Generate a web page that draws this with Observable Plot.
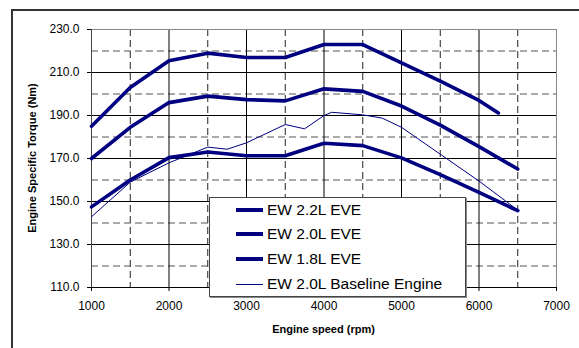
<!DOCTYPE html>
<html>
<head>
<meta charset="utf-8">
<script src="https://cdn.jsdelivr.net/npm/d3@7"></script>
<script src="https://cdn.jsdelivr.net/npm/@observablehq/plot@0.6"></script>
<style>
  body { margin: 0; background: white; }
  #wrap { position: relative; width: 579px; height: 348px; overflow: hidden; font-family: "Liberation Sans", Arial, sans-serif; }
  #frame { position: absolute; left: 11px; top: 9px; width: 600px; height: 400px; border-top: 2px solid #333; border-left: 2px solid #333; pointer-events: none; }
  .title { position: absolute; font-weight: bold; font-size: 11px; color: #000; white-space: nowrap; }
  #legend { position: absolute; left: 209px; top: 197px; width: 255px; height: 98px; background: white; border: 1px solid #444; box-shadow: 1px 1px 0 #888; }
  .row { position: absolute; left: 0; height: 20px; width: 100%; }
  .sample { position: absolute; left: 26px; width: 27px; top: 50%; background: #000080; }
  .lab { position: absolute; left: 57px; top: 50%; transform: translateY(-52%); font-size: 15.5px; color: #000; white-space: nowrap; }
</style>
</head>
<body>
<div id="wrap"></div>
<script>
// Data
const rpm22 = [1000, 1500, 2000, 2500, 3000, 3500, 4000, 4500, 5000, 5500, 6000, 6250];
const ew22  = [185, 203, 215.5, 219, 217, 217, 223, 223, 214.5, 206, 197, 191.2];
const rpm20 = [1000, 1500, 2000, 2500, 3000, 3500, 4000, 4500, 5000, 5500, 6000, 6500];
const ew20  = [170, 184.5, 196, 199, 197.4, 196.8, 202.4, 201.2, 194.4, 185.5, 175.5, 165.1];
const rpm18 = [1000, 1500, 2000, 2500, 3000, 3500, 4000, 4500, 5000, 5500, 6000, 6500];
const ew18  = [147.5, 160, 170.4, 173, 171.3, 171.3, 177.1, 176, 170.3, 162.5, 154.2, 145.7];
const rpmBase = [1000, 1500, 2000, 2500, 2750, 3000, 3500, 3750, 4000, 4100, 4500, 4750, 5000, 5500, 6000, 6500];
const ewBase  = [142.9, 159, 168, 175.3, 174.3, 177.3, 185.8, 183.8, 190, 191.5, 190.3, 188.8, 184.5, 172, 159.5, 146];

const seriesNames = ["EW 2.2L EVE", "EW 2.0L EVE", "EW 1.8L EVE", "EW 2.0L Baseline Engine"];
const xTicks = [1000, 2000, 3000, 4000, 5000, 6000, 7000];
const yTicks = [110, 130, 150, 170, 190, 210, 230];
const xMinor = [1500, 2500, 3500, 4500, 5500, 6500];
const yMinor = [120, 140, 160, 180, 200, 220];
const xTitle = "Engine speed (rpm)";
const yTitle = "Engine Specific Torque (Nm)";

const toRows = (xs, ys, name) => xs.map((x, i) => ({rpm: x, torque: ys[i], series: name}));
const d22 = toRows(rpm22, ew22, seriesNames[0]);
const d20 = toRows(rpm20, ew20, seriesNames[1]);
const d18 = toRows(rpm18, ew18, seriesNames[2]);
const dBase = toRows(rpmBase, ewBase, seriesNames[3]);

const navy = "#000080";
const xMajorInner = xTicks.slice(1, -1);
const yMajorInner = yTicks.slice(1, -1);

const chart = Plot.plot({
  width: 579,
  height: 348,
  marginLeft: 91,
  marginRight: 23,
  marginTop: 29,
  marginBottom: 61,
  style: {fontFamily: "'Liberation Sans', Arial, sans-serif", fontSize: "12px", background: "transparent", color: "#000", overflow: "visible"},
  x: {domain: [1000, 7000], ticks: xTicks, tickFormat: d => String(d), tickSize: 4, tickPadding: 10, label: null},
  y: {domain: [110, 230], ticks: yTicks, tickFormat: d => d.toFixed(1), tickSize: 4, tickPadding: 8, label: null},
  marks: [
    Plot.ruleX(xMinor, {stroke: "#222", strokeDasharray: "7,4"}),
    Plot.ruleY(yMinor, {stroke: "#555", strokeDasharray: "7,4"}),
    Plot.ruleX(xMajorInner, {stroke: "#000"}),
    Plot.ruleY(yMajorInner, {stroke: "#000"}),
    Plot.ruleX([7000], {stroke: "#888"}),
    Plot.ruleY([230], {stroke: "#888"}),
    Plot.ruleX([1000], {stroke: "#444"}),
    Plot.ruleY([110], {stroke: "#000"}),
    Plot.line(dBase, {x: "rpm", y: "torque", stroke: navy, strokeWidth: 1}),
    Plot.line(d18, {x: "rpm", y: "torque", stroke: navy, strokeWidth: 3.6}),
    Plot.line(d20, {x: "rpm", y: "torque", stroke: navy, strokeWidth: 3.6}),
    Plot.line(d22, {x: "rpm", y: "torque", stroke: navy, strokeWidth: 3.6})
  ]
});

const wrap = document.getElementById("wrap");
chart.style.position = "absolute";
chart.style.left = "0px";
chart.style.top = "0px";
wrap.appendChild(chart);

const frame = document.createElement("div");
frame.id = "frame";
wrap.appendChild(frame);

const xt = document.createElement("div");
xt.className = "title";
xt.textContent = xTitle;
xt.style.left = "323.5px";
xt.style.top = "323px";
xt.style.transform = "translateX(-50%)";
wrap.appendChild(xt);

const yt = document.createElement("div");
yt.className = "title";
yt.textContent = yTitle;
yt.style.left = "32px";
yt.style.top = "157.5px";
yt.style.transform = "translate(-50%, -50%) rotate(-90deg)";
wrap.appendChild(yt);

const legend = document.createElement("div");
legend.id = "legend";
const rowCenters = [12, 36, 61, 86];
const sampleWidths = [4, 4, 4, 1];
seriesNames.forEach((name, i) => {
  const row = document.createElement("div");
  row.className = "row";
  row.style.top = (rowCenters[i] - 10) + "px";
  const s = document.createElement("div");
  s.className = "sample";
  s.style.height = sampleWidths[i] + "px";
  s.style.marginTop = (-sampleWidths[i] / 2) + "px";
  const t = document.createElement("div");
  t.className = "lab";
  t.textContent = name;
  row.appendChild(s);
  row.appendChild(t);
  legend.appendChild(row);
});
wrap.appendChild(legend);
</script>
</body>
</html>
